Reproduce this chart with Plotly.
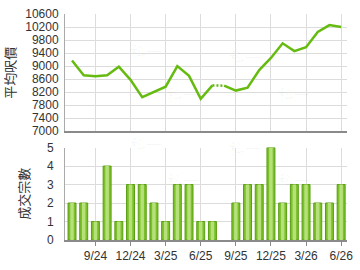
import plotly.graph_objects as go

months = ["7/24","8/24","9/24","10/24","11/24","12/24","1/25","2/25","3/25","4/25","5/25","6/25",
          "7/25","8/25","9/25","10/25","11/25","12/25","1/26","2/26","3/26","4/26","5/26","6/26"]
prices = [9170, 8720, 8690, 8720, 8980, 8580, 8050, 8220, 8370, 9000, 8700, 8000,
          8410, 8400, 8250, 8340, 8880, 9250, 9700, 9460, 9580, 10050, 10260, 10200]
deals = [2, 2, 1, 4, 1, 3, 3, 2, 1, 3, 3, 1,
         1, 0, 2, 3, 3, 5, 2, 3, 3, 2, 2, 3]
tick_labels = ["9/24", "12/24", "3/25", "6/25", "9/25", "12/25", "3/26", "6/26"]

idx = list(range(len(months)))
tick_vals = [months.index(t) for t in tick_labels]
gap = months.index("7/25")  # dotted segment from 7/25 to 8/25

line_color = "#66bb11"
fig = go.Figure()

# price line (solid parts + dotted connector)
fig.add_trace(go.Scatter(x=idx[:gap + 1], y=prices[:gap + 1], mode="lines",
                         line=dict(color=line_color, width=2.5), xaxis="x", yaxis="y", hoverinfo="skip"))
fig.add_trace(go.Scatter(x=idx[gap + 1:], y=prices[gap + 1:], mode="lines",
                         line=dict(color=line_color, width=2.5), xaxis="x", yaxis="y", hoverinfo="skip"))
fig.add_trace(go.Scatter(x=idx[gap:gap + 2], y=prices[gap:gap + 2], mode="lines",
                         line=dict(color=line_color, width=2.5, dash="2px,2px"), xaxis="x", yaxis="y", hoverinfo="skip"))

# bars: outer darker bar + inner lighter highlight
bx = [i for i, d in zip(idx, deals) if d > 0]
by = [d for d in deals if d > 0]
fig.add_trace(go.Bar(x=bx, y=by, width=0.68, marker=dict(color="#7cc02a", line=dict(color="#5a9e12", width=1)),
                     xaxis="x2", yaxis="y2", hoverinfo="skip"))
fig.add_trace(go.Bar(x=bx, y=by, width=0.3, marker=dict(color="#b5e07a", line=dict(width=0)),
                     xaxis="x2", yaxis="y2", hoverinfo="skip"))

grid = "#dcdcdc"
xr = [-0.6, 23.5]
top_dom = [0.481, 1.0]
bot_dom = [0.0, 0.409]
font = dict(family="Liberation Sans, Arial, sans-serif", size=12, color="#333333")

fig.update_layout(
    width=360, height=270,
    margin=dict(l=65, r=7, t=7, b=26),
    paper_bgcolor="white", plot_bgcolor="white",
    showlegend=False, barmode="overlay",
    font=font,
    xaxis=dict(domain=[0, 1], range=xr, anchor="y", tickvals=tick_vals, showticklabels=False,
               showgrid=True, gridcolor=grid, gridwidth=1, zeroline=False,
               showline=True, linecolor="#8a8a8a", linewidth=2, ticks=""),
    yaxis=dict(domain=top_dom, range=[7000, 10600], dtick=400, tick0=7000, anchor="x",
               tickformat="d",
               showgrid=True, gridcolor=grid, zeroline=False,
               showline=True, linecolor="#aaaaaa", linewidth=1, ticks="", ticklabelstandoff=3,
               title=dict(text="平均呎價", font=dict(size=13, family="Noto Sans CJK TC", color="#333"), standoff=6)),
    xaxis2=dict(domain=[0, 1], range=xr, anchor="y2", tickvals=tick_vals, ticktext=tick_labels,
                showgrid=True, gridcolor=grid, zeroline=False,
                showline=True, linecolor="#8a8a8a", linewidth=2, ticks="outside", ticklen=4,
                tickcolor="#8a8a8a"),
    yaxis2=dict(domain=bot_dom, range=[0, 5], dtick=1, anchor="x2",
                showgrid=True, gridcolor=grid, zeroline=False,
                showline=True, linecolor="#aaaaaa", linewidth=1, ticks="", ticklabelstandoff=8,
                title=dict(text="成交宗數", font=dict(size=13, family="Noto Sans CJK TC", color="#333"), standoff=14)),
)

# faint watermarks
for (x, y) in [(80, 28), (150, 95), (230, 35), (315, 95), (80, 155), (150, 215), (230, 160), (315, 215)]:
    fig.add_annotation(x=x / 360, y=1 - y / 270, xref="paper", yref="paper", text="科一", showarrow=False,
                       font=dict(size=16, color="rgba(0,0,0,0.035)", family="Noto Sans CJK TC"))

fig.write_html("out.html")
